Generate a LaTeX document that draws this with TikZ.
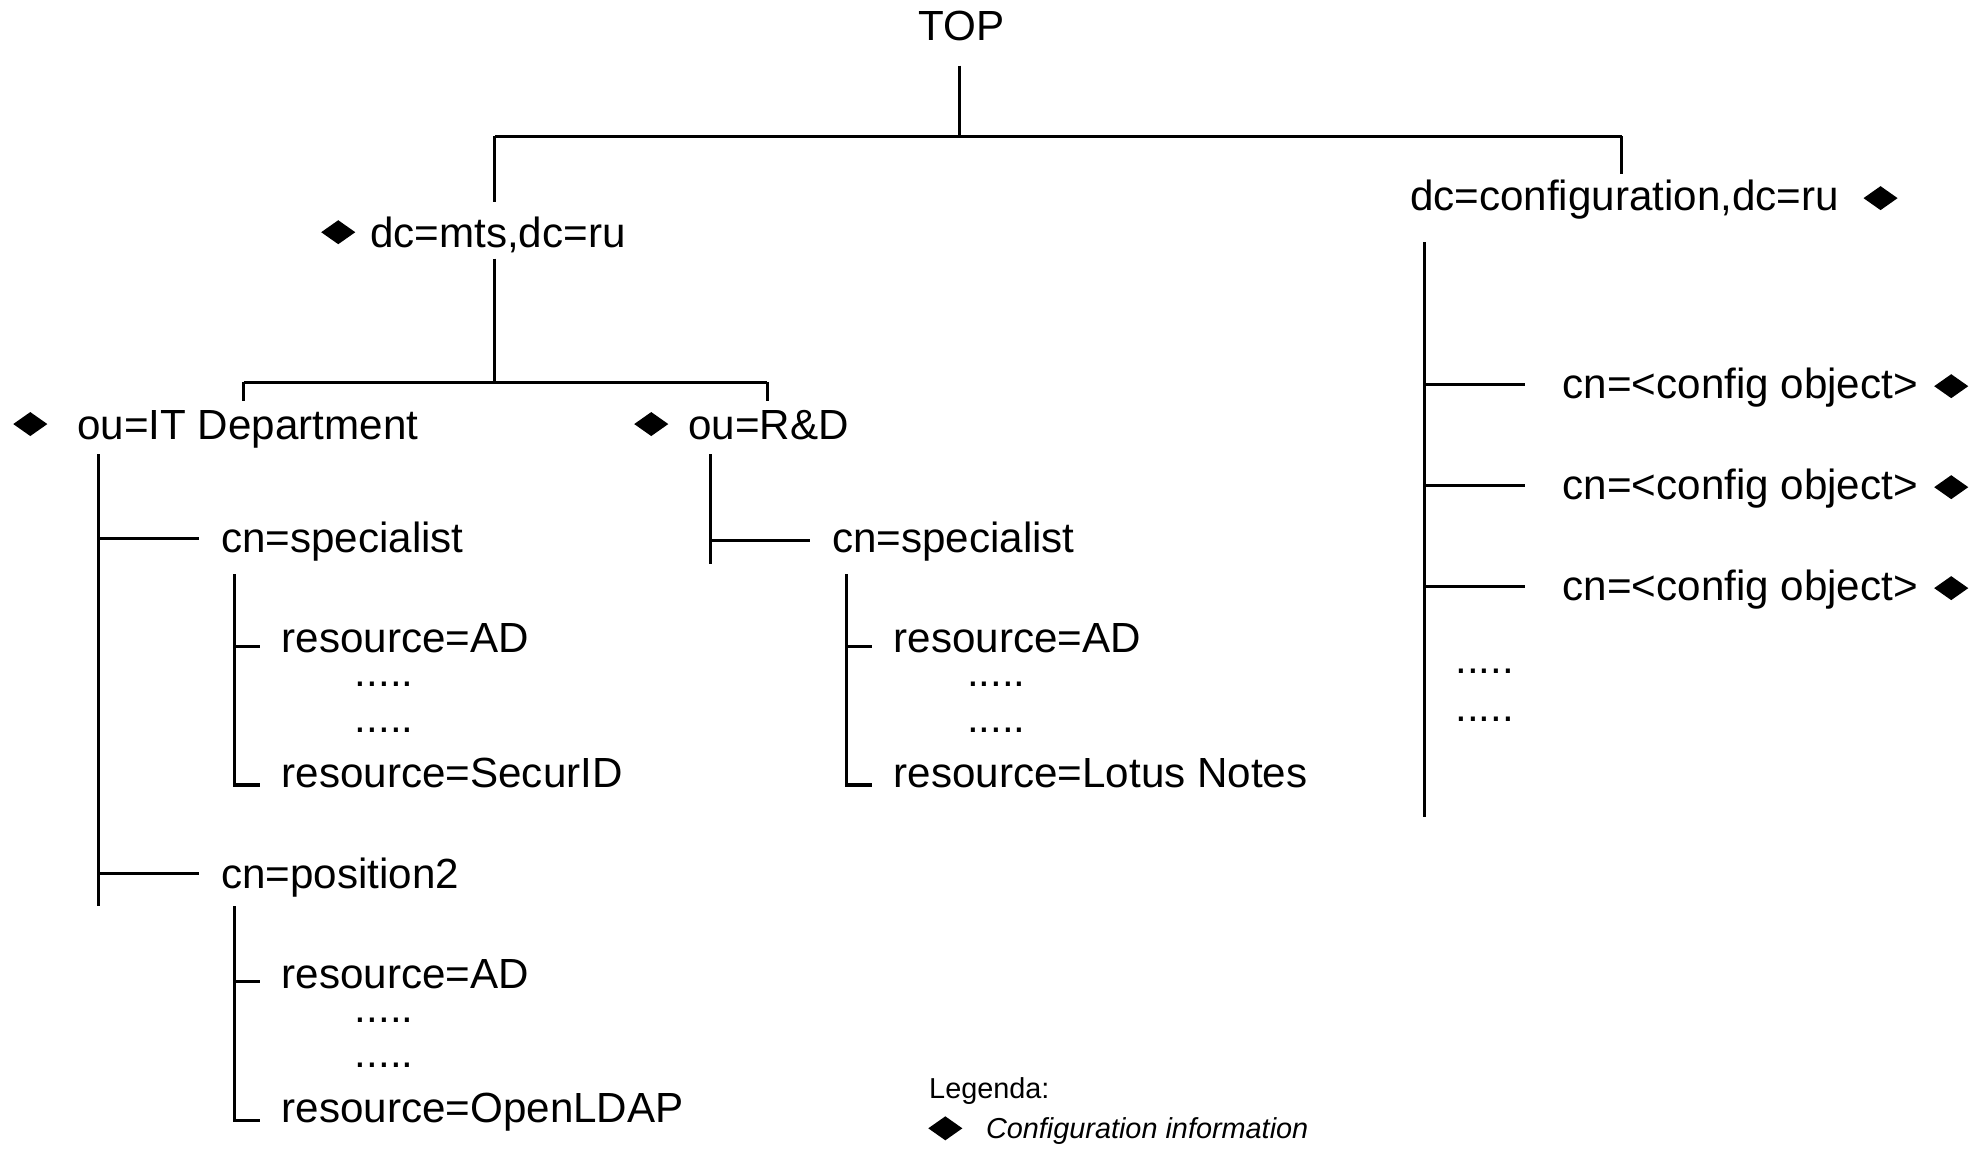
\documentclass[tikz,border=0pt]{standalone}
\usepackage{fontspec}
\setmainfont{Liberation Sans}
\usetikzlibrary{shapes.geometric}
\begin{document}
\begin{tikzpicture}[x=0.01cm, y=-0.01cm, line width=0.7pt,
	entry/.style={anchor=base west, inner sep=0pt, font=\fontsize{9.5}{11}\selectfont},
	more/.style={entry, text height=0.3ex, text depth=0pt},
	cfg/.style={diamond, fill=black, inner sep=0pt, minimum width=0.28cm, minimum height=0.2cm},
	legend/.style={anchor=base west, inner sep=0pt, font=\fontsize{6.5}{8}\selectfont}]
	\useasboundingbox (0,0) rectangle (1568,910);
	% top levels
	\node[entry, anchor=base] (top) at (762,32) {TOP};
	\node[entry] (mts) at (292,196) {dc=mts,dc=ru};
	\node[cfg] (mtsd) at (268,184) {};
	\node[entry] (conf) at (1116,167) {dc=configuration,dc=ru};
	\node[cfg] (confd) at (1490,157) {};
	\node[entry] (it) at (60,348) {ou=IT Department};
	\node[cfg] (itd) at (24,336) {};
	\node[entry] (rd) at (544,348) {ou=R\&D};
	\node[cfg] (rdd) at (516,336) {};
	% ou=IT Department
	\node[entry] (itspec) at (174,438) {cn=specialist};
	\node[entry] (itspecad) at (222,517) {resource=AD};
	\node[more] (itspecda) at (280,544) {.....};
	\node[more] (itspecdb) at (280,580) {.....};
	\node[entry] (itspecsid) at (222,624) {resource=SecurID};
	\node[entry] (itpos) at (174,704) {cn=position2};
	\node[entry] (itposad) at (222,783) {resource=AD};
	\node[more] (itposda) at (280,810) {.....};
	\node[more] (itposdb) at (280,846) {.....};
	\node[entry] (itposldap) at (222,889) {resource=OpenLDAP};
	% ou=R&D
	\node[entry] (rdspec) at (658,438) {cn=specialist};
	\node[entry] (rdspecad) at (707,517) {resource=AD};
	\node[more] (rdspecda) at (765,544) {.....};
	\node[more] (rdspecdb) at (765,580) {.....};
	\node[entry] (rdspeclot) at (707,624) {resource=Lotus Notes};
	% configuration
	\foreach \y [count=\i] in {305,385,465} {
		\node[entry] (obj\i) at (1237,\y+11) {cn=<config object>};
		\node[cfg] (objd\i) at (1546,\y+1) {};
		\coordinate (cj\i) at (1129,\y);
		\coordinate (ce\i) at (1208,\y);
		\draw (cj\i) -- (ce\i);
	}
	\node[more] (confda) at (1152,534) {.....};
	\node[more] (confdb) at (1152,572) {.....};
	% tree lines
	\coordinate (t0) at (760,52);
	\coordinate (t1) at (760,108);
	\coordinate (tl) at (392,108);
	\coordinate (tr) at (1285,108);
	\draw (t0) -- (t1) (tl) -- (tr) (tl) -- (392,160) (tr) -- (1285,138);
	\coordinate (m0) at (392,205);
	\coordinate (m1) at (392,303);
	\coordinate (ml) at (193,303);
	\coordinate (mr) at (608,303);
	\draw (m0) -- (m1) (ml) -- (mr) (ml) -- (193,318) (mr) -- (608,318);
	\coordinate (c0) at (1129,192);
	\coordinate (c1) at (1129,647);
	\draw (c0) -- (c1);
	% ou=IT Department lines
	\draw (78,360) -- (78,718) (78,427) -- (158,427) (78,692) -- (158,692);
	\draw (186,455) -- (186,622) -- (206,622) (186,512) -- (206,512);
	\draw (186,718) -- (186,888) -- (206,888) (186,778) -- (206,778);
	% ou=R&D lines
	\draw (563,360) -- (563,447) (563,428) -- (642,428);
	\draw (671,455) -- (671,622) -- (691,622) (671,512) -- (691,512);
	% legend
	\node[legend] (leg) at (735,870) {Legenda:};
	\node[cfg] (legd) at (749,894) {};
	\node[legend, font=\fontsize{6.5}{8}\selectfont\itshape] (legt) at (780,902) {Configuration information};
\end{tikzpicture}
\end{document}
